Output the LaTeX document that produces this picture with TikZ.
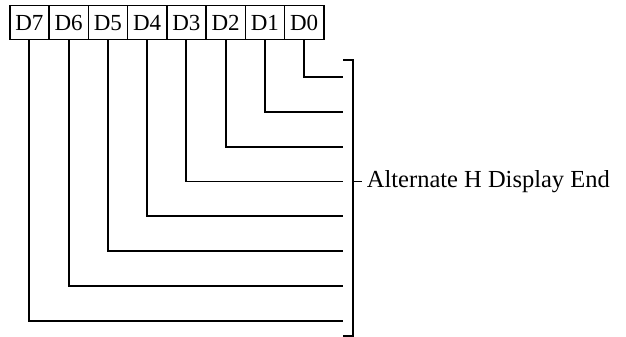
\documentclass[tikz,border=0pt]{standalone}
\usepackage{fontspec}
\setmainfont{Liberation Serif}
\begin{document}
\begin{tikzpicture}[x=1pt,y=-1pt,line width=1.8pt,
  bit/.style={draw,line width=1.5pt,minimum width=39.25pt,minimum height=34pt,inner sep=0pt,
    font=\fontsize{23}{23}\selectfont,anchor=north west},
  wire/.style={line width=1.8pt},
  lbl/.style={font=\fontsize{24.5}{24.5}\selectfont,inner sep=0pt,anchor=west}]
\useasboundingbox (0,0) rectangle (626,337);
\foreach \i in {0,...,7}{
  \node[bit] (d\i) at ({9+(7-\i)*39.25},5) {D\i};
}
\foreach \i in {0,...,7}{
  \coordinate (e\i) at (343,{77+\i*34.8});
  \draw[wire] (d\i.south) |- (e\i);
}
\coordinate (bt) at (343,60);
\coordinate (bb) at (343,336);
\draw[wire] (bt) -- ++(10,0) |- (bb);
\coordinate (tk) at (353,181.4);
\node[lbl] (lab) at (366,181.4) {Alternate H Display End};
\draw[wire] (tk) -- ++(9,0);
\end{tikzpicture}
\end{document}
